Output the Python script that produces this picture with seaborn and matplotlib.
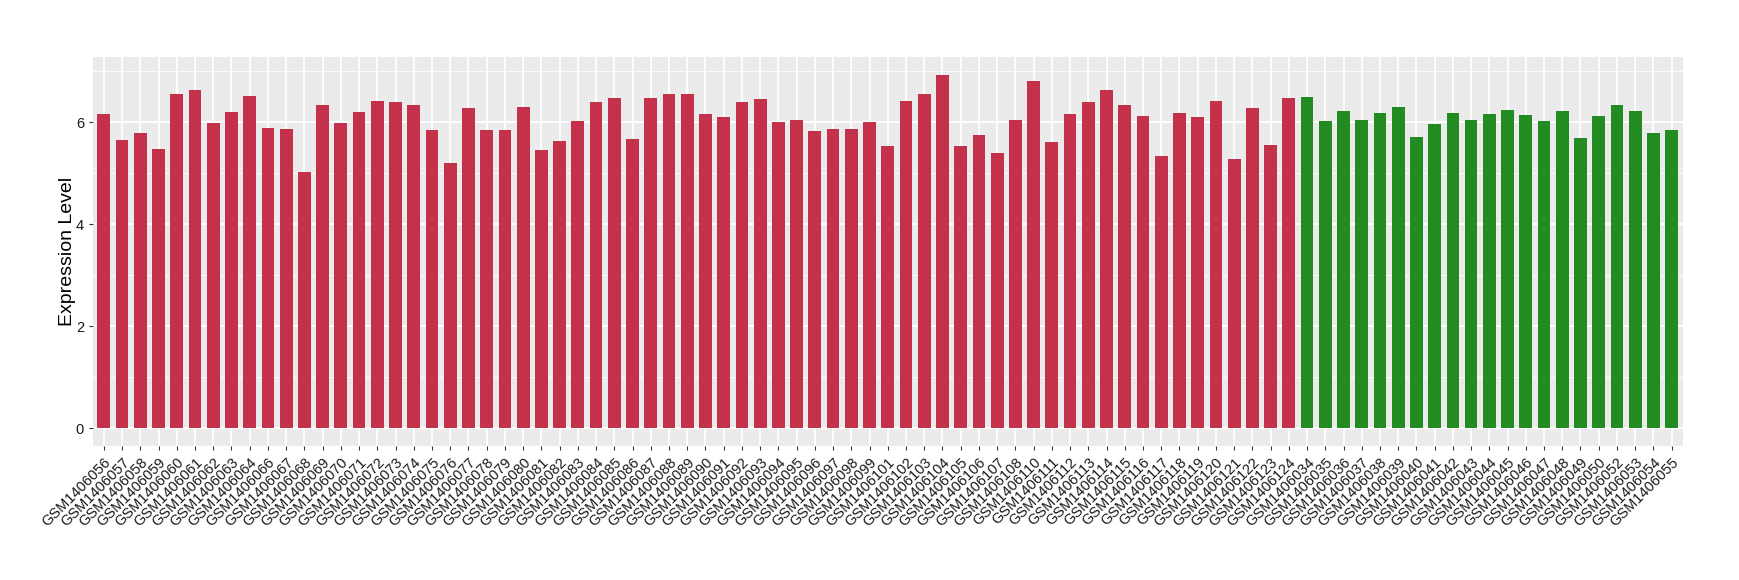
import pandas as pd
import matplotlib
matplotlib.use('Agg')
import matplotlib.pyplot as plt
import seaborn as sns

red_ids = ['056', '057', '058', '059', '060', '061', '062', '063', '064',
           '066', '067', '068', '069', '070', '071', '072', '073', '074', '075',
           '076', '077', '078', '079', '080', '081', '082', '083', '084', '085',
           '086', '087', '088', '089', '090', '091', '092', '093', '094', '095',
           '096', '097', '098', '099', '101', '102', '103', '104', '105', '106',
           '107', '108', '110', '111', '112', '113', '114', '115', '116', '117',
           '118', '119', '120', '121', '122', '123', '124']
red_vals = [6.16, 5.65, 5.79, 5.48, 6.55, 6.63, 5.99, 6.20, 6.51,
            5.89, 5.87, 5.03, 6.34, 5.99, 6.20, 6.42, 6.40, 6.34, 5.85,
            5.21, 6.28, 5.85, 5.85, 6.30, 5.46, 5.64, 6.03, 6.40, 6.48,
            5.67, 6.48, 6.55, 6.55, 6.16, 6.10, 6.40, 6.46, 6.01, 6.05,
            5.83, 5.87, 5.87, 6.01, 5.54, 6.42, 6.55, 6.93, 5.54, 5.75,
            5.40, 6.05, 6.81, 5.62, 6.16, 6.40, 6.63, 6.34, 6.12, 5.34,
            6.18, 6.10, 6.42, 5.28, 6.28, 5.56, 6.48]
green_ids = ['034', '035', '036', '037', '038', '039', '040', '041', '042',
             '043', '044', '045', '046', '047', '048', '049', '050', '052',
             '053', '054', '055']
green_vals = [6.50, 6.03, 6.22, 6.05, 6.18, 6.30, 5.71, 5.97, 6.18,
              6.05, 6.16, 6.24, 6.14, 6.03, 6.22, 5.69, 6.12, 6.34,
              6.22, 5.79, 5.85]

df = pd.DataFrame({
    'sample': ['GSM1406' + s for s in red_ids + green_ids],
    'value': red_vals + green_vals,
    'group': ['a'] * len(red_ids) + ['b'] * len(green_ids),
})

plt.rcParams['font.family'] = ['Liberation Sans', 'DejaVu Sans']

fig = plt.figure(figsize=(17.4, 5.8), dpi=100)
ax = fig.add_axes([0.0534, 0.231, 0.9136, 0.6707])
ax.set_facecolor('#EBEBEB')
ax.set_axisbelow(True)

sns.barplot(data=df, x='sample', y='value', hue='group',
            palette={'a': '#C3314A', 'b': '#228B22'}, dodge=False,
            width=0.7, legend=False, saturation=1, ax=ax)

n = len(df)
ax.set_xlim(-0.6, n - 1 + 0.6)
ax.set_ylim(-0.3465, 7.28)
ax.set_yticks([0, 2, 4, 6])
ax.set_yticks([1, 3, 5, 7], minor=True)
ax.grid(which='major', axis='both', color='white', linewidth=1.3)
ax.grid(which='minor', axis='y', color='white', linewidth=0.6)
ax.tick_params(axis='both', which='major', length=3, width=0.8, color='#333333',
               labelsize=10.5, labelcolor='#1A1A1A')
ax.tick_params(axis='y', which='minor', length=0)
for sp in ax.spines.values():
    sp.set_visible(False)

plt.setp(ax.get_xticklabels(), rotation=45, ha='right', va='top',
         rotation_mode='anchor')
ax.tick_params(axis='y', labelsize=10.5)
ax.set_xlabel('')
ax.set_ylabel('Expression Level', fontsize=14, color='black', labelpad=0)

fig.savefig('out.png', dpi=100)
